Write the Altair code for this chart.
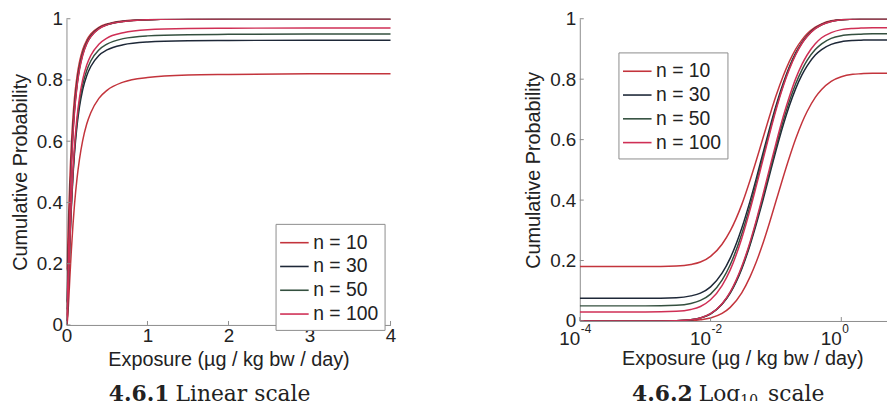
import altair as alt
import pandas as pd

# ---------------- data ----------------
exposure = [0.0001, 0.001, 0.003, 0.005, 0.007, 0.01, 0.015, 0.02, 0.03, 0.04,
            0.05, 0.06, 0.08, 0.1, 0.13, 0.16, 0.2, 0.25, 0.3, 0.4,
            0.5, 0.7, 1, 1.5, 2, 3, 4, 10]

n10_upper = [0.180, 0.180, 0.182, 0.187, 0.195, 0.214, 0.254, 0.298, 0.385, 0.464, 0.531, 0.588, 0.678, 0.744,
             0.812, 0.858, 0.899, 0.930, 0.950, 0.972, 0.983, 0.993, 0.997, 0.999, 1.000, 1.000, 1.000, 1.000]
n10_lower = [0.000, 0.000, 0.000, 0.001, 0.004, 0.010, 0.025, 0.045, 0.093, 0.145, 0.195, 0.242, 0.326, 0.396,
             0.478, 0.540, 0.602, 0.656, 0.693, 0.740, 0.766, 0.793, 0.808, 0.816, 0.818, 0.820, 0.820, 0.820]
n30_upper = [0.075, 0.075, 0.077, 0.083, 0.092, 0.113, 0.158, 0.208, 0.307, 0.395, 0.471, 0.536, 0.637, 0.711,
             0.788, 0.840, 0.886, 0.922, 0.944, 0.969, 0.981, 0.992, 0.997, 0.999, 1.000, 1.000, 1.000, 1.000]
n30_lower = [0.000, 0.000, 0.001, 0.004, 0.010, 0.023, 0.055, 0.092, 0.172, 0.250, 0.320, 0.381, 0.484, 0.563,
             0.650, 0.711, 0.768, 0.814, 0.844, 0.880, 0.898, 0.915, 0.924, 0.928, 0.929, 0.930, 0.930, 0.930]
n50_upper = [0.050, 0.050, 0.052, 0.058, 0.068, 0.089, 0.135, 0.186, 0.288, 0.379, 0.457, 0.523, 0.627, 0.703,
             0.782, 0.836, 0.883, 0.919, 0.942, 0.968, 0.980, 0.991, 0.997, 0.999, 1.000, 1.000, 1.000, 1.000]
n50_lower = [0.000, 0.000, 0.001, 0.004, 0.010, 0.024, 0.056, 0.094, 0.176, 0.255, 0.327, 0.390, 0.494, 0.575,
             0.664, 0.726, 0.784, 0.831, 0.862, 0.898, 0.917, 0.935, 0.944, 0.948, 0.949, 0.950, 0.950, 0.950]
n100_upper = [0.030, 0.030, 0.032, 0.038, 0.048, 0.070, 0.117, 0.169, 0.273, 0.366, 0.446, 0.513, 0.619, 0.697,
              0.778, 0.832, 0.880, 0.918, 0.941, 0.967, 0.980, 0.991, 0.997, 0.999, 1.000, 1.000, 1.000, 1.000]
n100_lower = [0.000, 0.000, 0.001, 0.004, 0.010, 0.024, 0.057, 0.096, 0.180, 0.260, 0.333, 0.398, 0.505, 0.587,
              0.678, 0.741, 0.801, 0.849, 0.880, 0.917, 0.937, 0.954, 0.964, 0.968, 0.969, 0.970, 0.970, 0.970]

series_names = ["n = 10", "n = 30", "n = 50", "n = 100"]
series_colors = ["#c3343c", "#1e2838", "#34503f", "#cf2f55"]

y_ticks = [0, 0.2, 0.4, 0.6, 0.8, 1]
lin_x_ticks = [0, 1, 2, 3, 4]
log_x_ticks = [0.0001, 0.01, 1]
log_x_exponents = ["-4", "-2", "0"]

curves = [
    ("n = 10", "upper", n10_upper), ("n = 10", "lower", n10_lower),
    ("n = 30", "upper", n30_upper), ("n = 30", "lower", n30_lower),
    ("n = 50", "upper", n50_upper), ("n = 50", "lower", n50_lower),
    ("n = 100", "upper", n100_upper), ("n = 100", "lower", n100_lower),
]
rows = []
for name, bound, ys in curves:
    for xv, yv in zip(exposure, ys):
        rows.append({"x": xv, "y": yv, "series": name, "bound": name + bound})
df = pd.DataFrame(rows)

# ---------------- styling ----------------
SANS = "Liberation Sans"
SERIF = "DejaVu Serif"
AXIS_COLOR = "#8c8c8c"
TEXT_COLOR = "#222222"
X_TITLE = "Exposure (µg / kg bw / day)"
Y_TITLE = "Cumulative Probability"

WL, HL = 327, 309
WR, HR = 310, 305
CAP_Y = 386

y_axis = alt.Axis(values=y_ticks, title=Y_TITLE, titlePadding=6, labelPadding=4,
                  labelExpr="datum.value == 0 ? '0' : datum.value == 1 ? '1' : format(datum.value, '.1f')")
y_enc = alt.Y("y:Q", scale=alt.Scale(domain=[0, 1], nice=False), axis=y_axis)

color_scale = alt.Scale(domain=series_names, range=series_colors)


def make_legend(lx, ly):
    return alt.Legend(title=None, orient="none", legendX=lx, legendY=ly,
                      symbolType="M-1.2,0H1.2", symbolSize=576, symbolStrokeWidth=1.6,
                      labelFont=SANS, labelFontSize=19.5, labelColor=TEXT_COLOR,
                      labelOffset=6, rowPadding=1, padding=6,
                      strokeColor="#8c8c8c", fillColor="white")


def caption(parts):
    layers = []
    for txt, xpos, dy, size, weight, align in parts:
        layers.append(
            alt.Chart(pd.DataFrame({"t": [txt]})).mark_text(
                font=SERIF, fontSize=size, fontWeight=weight, align=align,
                baseline="alphabetic", color=TEXT_COLOR
            ).encode(text="t:N", x=alt.value(xpos), y=alt.value(CAP_Y + dy))
        )
    return layers


# ---------------- left: linear scale ----------------
x_lin = alt.X("x:Q", scale=alt.Scale(domain=[0, 4], nice=False),
              axis=alt.Axis(values=lin_x_ticks, title=X_TITLE, labelPadding=2,
                            titlePadding=4, labelFlush=False, format="d"))

lines_lin = alt.Chart(df).mark_line(strokeWidth=1.5, clip=True, interpolate="monotone").encode(
    x=x_lin, y=y_enc,
    color=alt.Color("series:N", scale=color_scale, legend=make_legend(211, 207)),
    detail="bound:N",
)
xt_lin = alt.Chart(pd.DataFrame({"x": lin_x_ticks})).mark_rule(color=AXIS_COLOR).encode(
    x=x_lin, y=alt.value(HL), y2=alt.value(HL - 4))
yt_lin = alt.Chart(pd.DataFrame({"y": y_ticks})).mark_rule(color=AXIS_COLOR).encode(
    y=y_enc, x=alt.value(0), x2=alt.value(4))

left = alt.layer(
    lines_lin, xt_lin, yt_lin,
    *caption([("4.6.1", 104, 0, 22, "bold", "right"),
              ("Linear scale", 110, 0, 22, "normal", "left")])
).properties(width=WL, height=HL)

# ---------------- right: log scale ----------------
x_log = alt.X("x:Q", scale=alt.Scale(type="log", domain=[0.0001, 5], nice=False),
              axis=alt.Axis(values=log_x_ticks, title=X_TITLE, labelExpr="'10'",
                            labelAlign="right", labelPadding=9, labelFlush=False,
                            labelOverlap=False, titlePadding=0, titleX=164))

lines_log = alt.Chart(df).mark_line(strokeWidth=1.5, clip=True, interpolate="monotone").encode(
    x=x_log, y=y_enc,
    color=alt.Color("series:N", scale=color_scale, legend=make_legend(39, 34)),
    detail="bound:N",
)
xt_log = alt.Chart(pd.DataFrame({"x": log_x_ticks})).mark_rule(color=AXIS_COLOR).encode(
    x=x_log, y=alt.value(HR), y2=alt.value(HR - 4))
yt_log = alt.Chart(pd.DataFrame({"y": y_ticks})).mark_rule(color=AXIS_COLOR).encode(
    y=y_enc, x=alt.value(0), x2=alt.value(4))
exps = alt.Chart(pd.DataFrame({"x": log_x_ticks, "e": log_x_exponents})).mark_text(
    font=SANS, fontSize=12, align="left", baseline="alphabetic", dx=1, color=TEXT_COLOR
).encode(x=x_log, y=alt.value(HR + 12), text="e:N")

right = alt.layer(
    lines_log, xt_log, yt_log, exps,
    *caption([("4.6.2", 114, 0, 22, "bold", "right"),
              ("Log", 120, 0, 22, "normal", "left"),
              ("10", 162, 4, 14, "normal", "left"),
              ("scale", 190, 0, 22, "normal", "left")])
).properties(width=WR, height=HR)

chart = alt.hconcat(left, right, spacing=128).resolve_legend(color="independent").properties(
    padding={"left": 2, "top": 0, "right": 0, "bottom": 0}
).configure_view(stroke=None).configure_axis(
    labelFont=SANS, labelFontSize=19, labelColor=TEXT_COLOR,
    titleFont=SANS, titleFontSize=20, titleFontWeight="normal", titleColor=TEXT_COLOR,
    domainColor=AXIS_COLOR, domainWidth=1, grid=False, ticks=False, tickSize=0,
)

chart.save("out.html", embed_options={"renderer": "svg", "actions": False})
